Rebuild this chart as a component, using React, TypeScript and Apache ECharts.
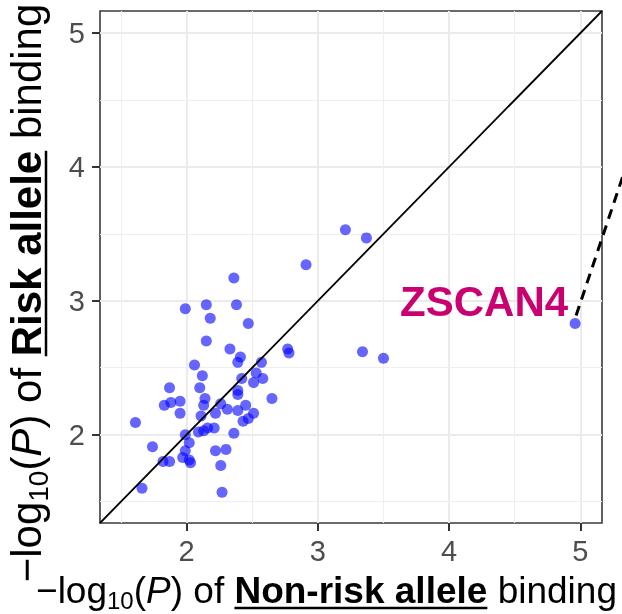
import React, { useEffect, useRef } from 'react';
import * as echarts from 'echarts';

const FONT = '"Liberation Sans", Arial, Helvetica, sans-serif';

// -log10(P) of non-risk allele binding (x) and risk allele binding (y)
const nonRiskLogP = [
  3.21, 3.37, 2.91, 2.36, 1.99, 2.15, 2.38, 2.18, 2.47, 2.15,
  2.33, 2.41, 2.39, 2.06, 2.57, 2.77, 2.78, 2.12, 2.53, 2.58,
  2.51, 2.42, 2.10, 2.39, 2.39, 1.87, 2.65, 2.14, 1.88, 1.83,
  1.95, 2.13, 2.26, 2.31, 2.39, 2.45, 1.95, 2.11, 2.22, 2.51,
  2.43, 1.61, 2.16, 2.21, 2.13, 2.09, 1.99, 2.36, 2.02, 1.74,
  1.99, 2.22, 2.30, 1.82, 1.87, 1.97, 2.02, 2.03, 2.26, 1.66,
  2.27, 3.34, 3.50, 2.47, 4.96,
];
const riskLogP = [
  3.53, 3.47, 3.27, 3.17, 2.94, 2.97, 2.97, 2.87, 2.83, 2.70,
  2.64, 2.58, 2.54, 2.52, 2.54, 2.64, 2.61, 2.44, 2.46, 2.42,
  2.39, 2.42, 2.35, 2.33, 2.30, 2.35, 2.27, 2.27, 2.24, 2.22,
  2.25, 2.22, 2.23, 2.19, 2.18, 2.22, 2.16, 2.14, 2.16, 2.16,
  2.10, 2.09, 2.05, 2.05, 2.03, 2.02, 2.00, 2.01, 1.94, 1.91,
  1.88, 1.88, 1.89, 1.80, 1.80, 1.83, 1.81, 1.79, 1.77, 1.60,
  1.57, 2.62, 2.57, 2.12, 2.83,
];
const highlightGene = 'ZSCAN4';
const highlightIndex = nonRiskLogP.length - 1;

const axisMin = 1.34;
const axisMax = 5.165;
const tickValues = [2, 3, 4, 5];
const majorGrid = [2, 3, 4, 5];
const minorGrid = [1.5, 2.5, 3.5, 4.5];

type Piece = { t: string; size: number; bold?: boolean; italic?: boolean; dy?: number; underline?: boolean };

const xTitlePieces: Piece[] = [
  { t: '\u2212log', size: 37 },
  { t: '10', size: 24, dy: 6 },
  { t: '(', size: 37 },
  { t: 'P', size: 37, italic: true },
  { t: ') of ', size: 37 },
  { t: 'Non-risk allele', size: 37, bold: true, underline: true },
  { t: ' binding', size: 37 },
];
const yTitlePieces: Piece[] = [
  { t: '\u2212log', size: 42 },
  { t: '10', size: 28, dy: 7 },
  { t: '(', size: 42 },
  { t: 'P', size: 42, italic: true },
  { t: ') of ', size: 42 },
  { t: 'Risk allele', size: 42, bold: true, underline: true },
  { t: ' binding', size: 42 },
];

function fontOf(p: Piece) {
  return `${p.italic ? 'italic ' : ''}${p.bold ? 'bold ' : ''}${p.size}px ${FONT}`;
}

function buildTitle(pieces: Piece[]) {
  const ctx = document.createElement('canvas').getContext('2d') as CanvasRenderingContext2D;
  const widths = pieces.map((p) => {
    ctx.font = fontOf(p);
    return ctx.measureText(p.t).width;
  });
  const total = widths.reduce((a, b) => a + b, 0);
  let x = -total / 2;
  const children: any[] = [];
  pieces.forEach((p, i) => {
    const w = widths[i];
    children.push({
      type: 'text',
      x,
      y: (p.dy || 0) - 0.3465 * p.size,
      style: {
        text: p.t,
        font: fontOf(p),
        fill: '#000000',
        align: 'left',
        verticalAlign: 'middle',
      },
    });
    if (p.underline) {
      const t = p.t;
      ctx.font = fontOf(p);
      const start = x;
      const end = x + ctx.measureText(t.trimEnd()).width;
      children.push({
        type: 'line',
        shape: { x1: start, y1: 5, x2: end, y2: 5 },
        style: { stroke: '#000000', lineWidth: 2.5 },
      });
    }
    x += w;
  });
  return children;
}

function axisCfg(margin: number) {
  return {
    type: 'value',
    min: axisMin,
    max: axisMax,
    axisLine: { show: false, onZero: false },
    axisTick: {
      show: true,
      length: 8,
      customValues: tickValues,
      lineStyle: { color: '#333333', width: 2 },
    },
    axisLabel: {
      customValues: tickValues,
      fontSize: 29,
      color: '#4D4D4D',
      fontFamily: FONT,
      margin,
    },
    splitLine: { show: false },
  };
}

export default function App() {
  const ref = useRef<HTMLDivElement>(null);
  useEffect(() => {
    if (!ref.current) return;
    const chart = echarts.init(ref.current, undefined, { renderer: 'svg' });
    const points = nonRiskLogP.map((x, i) => [x, riskLogP[i]]);
    const gridLines: any[] = [];
    majorGrid.forEach((v) => {
      gridLines.push({ xAxis: v, lineStyle: { color: '#EBEBEB', width: 2, type: 'solid' } });
      gridLines.push({ yAxis: v, lineStyle: { color: '#EBEBEB', width: 2, type: 'solid' } });
    });
    minorGrid.forEach((v) => {
      gridLines.push({ xAxis: v, lineStyle: { color: '#EFEFEF', width: 1.1, type: 'solid' } });
      gridLines.push({ yAxis: v, lineStyle: { color: '#EFEFEF', width: 1.1, type: 'solid' } });
    });
    chart.setOption({
      animation: false,
      grid: {
        left: 100,
        top: 11,
        width: 502,
        height: 512,
        show: true,
        borderColor: '#3A3A3A',
        borderWidth: 1.6,
        backgroundColor: 'transparent',
      },
      xAxis: axisCfg(13),
      yAxis: axisCfg(15),
      series: [
        {
          type: 'line',
          data: [],
          silent: true,
          z: 1,
          markLine: {
            silent: true,
            z: 1,
            symbol: ['none', 'none'],
            label: { show: false },
            emphasis: { disabled: true },
            lineStyle: { type: 'solid' },
            data: gridLines,
          },
        },
        {
          type: 'scatter',
          data: points,
          symbolSize: 11,
          z: 2,
          itemStyle: { color: 'rgba(0,0,255,0.75)' },
        },
        {
          type: 'line',
          data: [
            [axisMin, axisMin],
            [axisMax, axisMax],
          ],
          showSymbol: false,
          silent: true,
          z: 3,
          lineStyle: { color: '#000000', width: 1.8 },
        },
      ],
    });

    const [px, py] = chart.convertToPixel({ gridIndex: 0 }, [
      nonRiskLogP[highlightIndex],
      riskLogP[highlightIndex],
    ]) as number[];
    chart.setOption({
      graphic: [
        { type: 'group', z: 100, x: 326.5, y: 603, children: buildTitle(xTitlePieces) },
        { type: 'group', z: 100, x: 41, y: 293, rotation: Math.PI / 2, children: buildTitle(yTitlePieces) },
        {
          type: 'text',
          z: 100,
          x: px - 7,
          y: py - 22,
          style: {
            text: highlightGene,
            font: `bold 42px ${FONT}`,
            fill: '#CB0070',
            align: 'right',
            verticalAlign: 'middle',
          },
        },
        {
          type: 'line',
          z: 100,
          shape: { x1: px + 1, y1: py - 8, x2: px + 58, y2: py - 178 },
          style: { stroke: '#000000', lineWidth: 3, lineDash: [10, 7] },
        },
      ],
    });
    return () => chart.dispose();
  }, []);
  return <div ref={ref} style={{ position: 'fixed', left: 0, top: 0, width: 622, height: 614 }} />;
}
